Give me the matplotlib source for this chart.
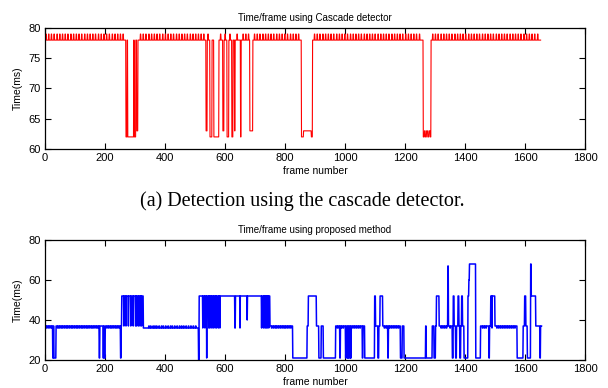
import numpy as np
import matplotlib.pyplot as plt

# ---- data ----
n_frames = 1653

# red: step levels (frame where level starts, level)
red_edges = [0, 270, 274, 276, 296, 298, 303, 306, 310,
             537, 541, 550, 557, 563, 580, 593, 597, 607, 613, 623, 627, 632, 634,
             652, 654, 683, 693, 855, 862, 888, 892,
             1261, 1265, 1268, 1272, 1276, 1280, 1284, 1287]
red_levels = [78, 62, 78, 62, 78, 62, 78, 63, 78,
              63, 78, 62, 78, 62, 78, 63, 78, 62, 78, 62, 78, 63, 78,
              62, 78, 63, 78, 62, 63, 62, 78,
              62, 63, 62, 63, 62, 63, 62, 78]
# short jumps 78 -> 79
red_pulses = [3, 12, 21, 30, 40, 49, 58, 67, 76, 86, 95, 104, 113, 122, 132, 141, 150, 159,
              168, 178, 187, 196, 205, 214, 224, 233, 242, 251, 260,
              318, 327, 336, 346, 355, 364, 373, 382, 392, 401, 410, 419, 428, 438, 447,
              456, 465, 474, 484, 493, 502, 511, 520, 529,
              543, 585, 600, 616, 640, 660, 669, 678,
              698, 707, 716, 726, 735, 744, 753, 762, 772, 781, 790, 799, 808, 818, 827,
              836, 845,
              898, 907, 916, 926, 935, 944, 953, 962, 972, 981, 990, 999, 1008, 1018,
              1027, 1036, 1045, 1054, 1064, 1073, 1082, 1091, 1100, 1110, 1119, 1128,
              1137, 1146, 1156, 1165, 1174, 1183, 1192, 1202, 1211, 1220, 1229, 1238, 1248,
              1292, 1301, 1310, 1320, 1329, 1338, 1347, 1356, 1366, 1375, 1384, 1393,
              1402, 1412, 1421, 1430, 1439, 1448, 1458, 1467, 1476, 1485, 1494, 1504,
              1513, 1522, 1531, 1540, 1550, 1559, 1568, 1577, 1586, 1596, 1605, 1614,
              1623, 1632, 1642]
red_pulse_len = 2

# blue: step levels
blue_edges = [0, 26, 28, 30, 37, 181, 183, 194, 196, 198, 201, 252, 254,
              256, 263, 264, 270, 271, 278, 279, 286, 287, 294, 295, 302, 303,
              306, 307, 312, 313, 317, 318, 322, 323, 328,
              512, 514, 526, 527, 533, 534, 539, 540, 546, 547, 550, 551, 556, 557,
              561, 562, 567, 568, 572, 573, 578, 579, 583, 584,
              633, 635, 650, 651, 674, 675, 722, 723, 728, 729, 733, 734, 737, 738,
              741, 742, 746, 747, 750,
              826, 874, 878, 883, 905, 913, 921, 928, 969, 983, 985,
              1002, 1004, 1008, 1010, 1011, 1013, 1016, 1018, 1019, 1021, 1058, 1060,
              1066, 1099, 1102, 1110, 1113, 1117, 1126, 1143, 1145, 1185, 1191, 1197,
              1269, 1271, 1291, 1297, 1302, 1305, 1314, 1343, 1345, 1358, 1361, 1364,
              1369, 1372, 1377, 1380, 1383, 1386, 1389, 1392, 1397, 1410, 1413, 1415,
              1419, 1436, 1452, 1480, 1482, 1486, 1490, 1491, 1500,
              1574, 1594, 1599, 1603, 1608, 1619, 1621, 1636, 1650, 1652]
blue_levels = [37, 21, 37, 21, 37, 21, 37, 21, 37, 21, 37, 21, 37,
               52, 37, 52, 37, 52, 37, 52, 37, 52, 37, 52, 37, 52,
               37, 52, 37, 52, 37, 52, 37, 52, 36,
               20, 52, 36, 52, 36, 52, 21, 52, 36, 52, 36, 52, 36, 52,
               36, 52, 36, 52, 36, 52, 36, 52, 36, 52,
               36, 52, 36, 52, 40, 52, 36, 52, 36, 52, 36, 52, 36, 52,
               36, 52, 36, 52, 37,
               21, 37, 52, 52, 37, 21, 37, 21, 37, 21, 37,
               21, 37, 21, 37, 21, 37, 21, 37, 21, 37, 21, 37,
               21, 52, 37, 21, 37, 52, 37, 21, 37, 21, 37, 21,
               37, 21, 37, 21, 37, 52, 37, 67, 37, 21, 52, 37,
               21, 37, 52, 37, 21, 37, 52, 37, 21, 52, 60, 68,
               68, 21, 37, 21, 37, 52, 36, 52, 37,
               21, 37, 52, 37, 21, 68, 52, 37, 21, 37]
# short toggles between 36 and 37
blue_flicker = [4, 10, 16, 22,
                42, 47, 53, 58, 64, 70, 75, 81, 87, 92, 98, 104, 109, 115, 121, 126,
                132, 138, 143, 149, 155, 160, 166, 172, 177,
                206, 212, 218, 223, 229, 235, 240, 246,
                346, 352, 360, 366, 372, 380, 388, 394, 402, 410, 418, 424, 432, 440,
                448, 455, 462, 470, 478, 486, 494, 502,
                755, 761, 767, 772, 778, 784, 790, 796, 801, 807, 813, 819,
                974, 980, 988, 994, 1026, 1032, 1038, 1044, 1050,
                1131, 1137, 1148, 1154, 1160, 1166, 1172, 1178,
                1320, 1326, 1332, 1338, 1350,
                1458, 1464, 1470, 1506, 1512, 1518, 1524, 1530, 1536, 1542, 1548, 1554,
                1560, 1566]
blue_flicker_len = 2


def build(edges, levels, n):
    frames = np.arange(n)
    idx = np.searchsorted(edges, frames, side='right') - 1
    return frames, np.array(levels, dtype=float)[idx]


fr_red, t_red = build(red_edges, red_levels, n_frames)
for p in red_pulses:
    seg = t_red[p:p + red_pulse_len]
    seg[seg == 78] = 79

fr_blue, t_blue = build(blue_edges, blue_levels, n_frames + 3)
for p in blue_flicker:
    seg = t_blue[p:p + blue_flicker_len]
    up = seg == 36
    dn = seg == 37
    seg[up] = 37
    seg[dn] = 36

plt.rcParams['font.family'] = ['Liberation Sans', 'DejaVu Sans']

fig = plt.figure(figsize=(6.08, 3.88), dpi=100)
ax1 = fig.add_axes([45 / 608, 1 - 149 / 388, 540 / 608, 121 / 388])
ax2 = fig.add_axes([45 / 608, 1 - 360 / 388, 540 / 608, 120 / 388])

ax1.plot(fr_red, t_red, color='#ff0000', lw=0.8)
ax2.plot(fr_blue, t_blue, color='#0000ff', lw=1.1)

for ax, yl, yt, title in [(ax1, (60, 80), [60, 65, 70, 75, 80], 'Time/frame using Cascade detector'),
                          (ax2, (20, 80), [20, 40, 60, 80], 'Time/frame using proposed method')]:
    ax.set_xlim(0, 1800)
    ax.set_ylim(*yl)
    ax.set_xticks(range(0, 1801, 200))
    ax.set_yticks(yt)
    ax.tick_params(direction='in', top=True, right=True, length=4, width=0.8,
                   labelsize=8, pad=3)
    for s in ax.spines.values():
        s.set_linewidth(0.9)
    ax.set_title(title, fontsize=7, pad=5)
    ax.set_xlabel('frame number', fontsize=7.5, labelpad=2)
    ax.set_ylabel('Time(ms)', fontsize=7.5, labelpad=4)

fig.text(302 / 608, 1 - 201 / 388, '(a) Detection using the cascade detector.',
         ha='center', va='center', fontsize=14.5, family='Liberation Serif')

fig.savefig('out.png', dpi=100)
